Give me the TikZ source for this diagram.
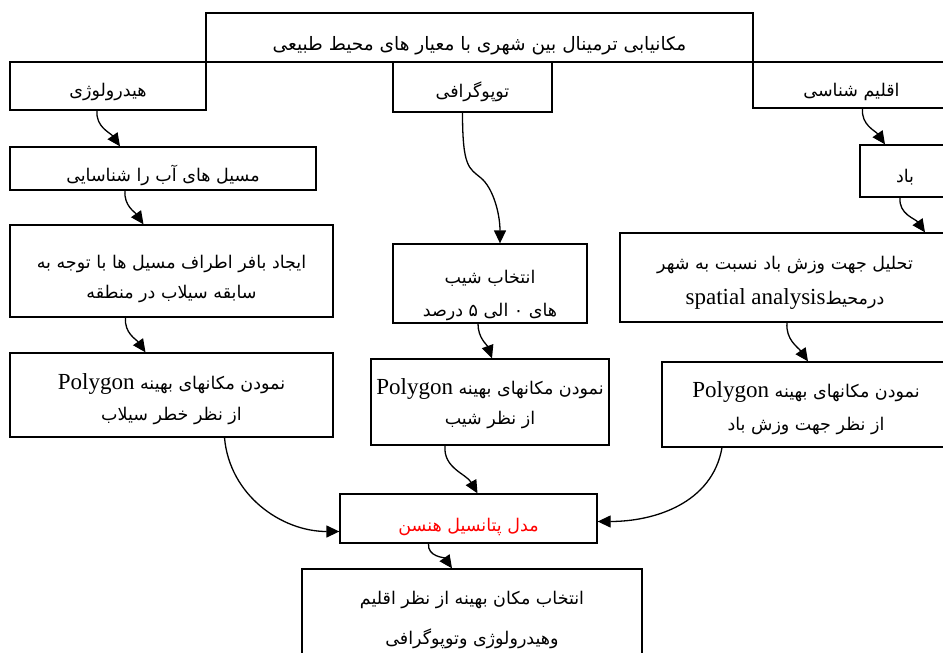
\documentclass[tikz,border=0pt]{standalone}
\usepackage{fontspec}
\setmainfont{Liberation Serif}
\newfontfamily\fa[Script=Arabic]{DejaVu Sans}
\TeXXeTstate=1
\usetikzlibrary{arrows.meta,fit}
\newlength\dropamt
\newcommand\fr[1]{{\fa\beginR #1\endR}}
\newcommand\lat[1]{{\rmfamily\fontsize{23}{23}\selectfont #1}}
\newcommand\lne[1]{\raisebox{-\dropamt}[\height][\depth]{#1}}
\tikzset{
  box/.style={draw, line width=1.3pt, inner sep=0pt, align=center,
    font=\fa\fontsize{17.5}{31}\selectfont},
  dropby/.style={execute at begin node={\setlength\dropamt{#1}}},
  conn/.style={line width=1.3pt, -{Triangle[length=13pt,width=12pt]}},
}
\begin{document}
\begin{tikzpicture}[x=1pt,y=-1pt]
\useasboundingbox (0,0) rectangle (943,653);
% title
\node[box, dropby=15pt, fit={(206,13) (753,62)}, font=\fa\fontsize{18.5}{31}\selectfont] (title) {\lne{\fr{مکانیابی ترمینال بین شهری با معیار های محیط طبیعی}}};
% top row
\node[box, dropby=13pt, fit={(10,62) (206,110)}] (hyd) {\lne{\fr{هیدرولوژی}}};
\node[box, dropby=13pt, fit={(393,62) (552,112)}] (topo) {\lne{\fr{توپوگرافی}}};
\node[box, dropby=14pt, fit={(753,62) (950,108)}] (clim) {\lne{\fr{اقلیم شناسی}}};
% hydrology column
\node[box, dropby=15pt, fit={(10,147) (316,190)}] (hyd2) {\lne{\fr{مسیل های آب را شناسایی}}};
\node[box, dropby=15pt, fit={(10,225) (333,317)}] (hyd3) {\lne{\fr{ایجاد بافر اطراف مسیل ها با توجه به}}\\[-1pt]\lne{\fr{سابقه سیلاب در منطقه}}};
\node[box, dropby=12pt, fit={(10,353) (333,437)}] (hyd4) {\lne{\lat{Polygon} \fr{نمودن مکانهای بهینه}}\\\lne{\fr{از نظر خطر سیلاب}}};
% topography column
\node[box, dropby=19pt, fit={(393,244) (587,323)}] (slope) {\lne{\fr{انتخاب شیب}}\\[2pt]\lne{\fr{های ۰ الی ۵ درصد}}};
\node[box, dropby=10pt, fit={(371,359) (609,445)}] (slopepoly) {\lne{\lat{Polygon} \fr{نمودن مکانهای بهینه}}\\[-1pt]\lne{\fr{از نظر شیب}}};
% climate column
\node[box, dropby=13pt, fit={(860,145) (950,197)}] (wind) {\lne{\fr{باد}}};
\node[box, dropby=12pt, fit={(620,233) (950,322)}] (windan) {\lne{\fr{تحلیل جهت وزش باد نسبت به شهر}}\\[4pt]\lne{\lat{spatial analysis}\fr{درمحیط}}};
\node[box, dropby=12pt, fit={(662,362) (950,447)}] (windpoly) {\lne{\lat{Polygon} \fr{نمودن مکانهای بهینه}}\\[2pt]\lne{\fr{از نظر جهت وزش باد}}};
% bottom
\node[box, dropby=15pt, fit={(340,494) (597,543)}, text=red] (red) {\lne{\fr{مدل پتانسیل هنسن}}};
\node[box, dropby=2pt, fit={(302,569) (642,680)}] (final) {\lne{\fr{انتخاب مکان بهینه از نظر اقلیم}}\\[9pt]\lne{\fr{وهیدرولوژی وتوپوگرافی}}};
% connectors
\draw[conn] ([xshift=-11pt]hyd.south) to[out=-95,in=125] ([xshift=-43pt]hyd2.north);
\draw[conn] ([xshift=-38pt]hyd2.south) to[out=-95,in=125] ([xshift=-28pt]hyd3.north);
\draw[conn] ([xshift=-46pt]hyd3.south) to[out=-95,in=125] ([xshift=-26pt]hyd4.north);
\draw[conn] ([xshift=-10pt]topo.south) .. controls +(0,-55pt) and +(-12pt,10pt) .. (481,178) .. controls +(12pt,-10pt) and +(0,30pt) .. ([xshift=10pt]slope.north);
\draw[conn] ([xshift=-12pt]slope.south) to[out=-90,in=110] ([xshift=2pt]slopepoly.north);
\draw[conn] ([xshift=11pt]clim.south) to[out=-95,in=125] ([xshift=-20pt]wind.north);
\draw[conn] ([xshift=-5pt]wind.south) to[out=-95,in=125] ([xshift=140pt]windan.north);
\draw[conn] ([xshift=2pt]windan.south) to[out=-95,in=125] ([xshift=2pt]windpoly.north);
\draw[conn] ([xshift=53pt]hyd4.south) to[out=-85,in=180] ([yshift=-13pt]red.west);
\draw[conn] ([xshift=-45pt]slopepoly.south) to[out=-95,in=120] ([xshift=9pt]red.north);
\draw[conn] ([xshift=-84pt]windpoly.south) to[out=-100,in=0] ([yshift=-3pt]red.east);
\draw[conn] ([xshift=-40pt]red.south) to[out=-95,in=125] ([xshift=-20pt]final.north);
\end{tikzpicture}
\end{document}
